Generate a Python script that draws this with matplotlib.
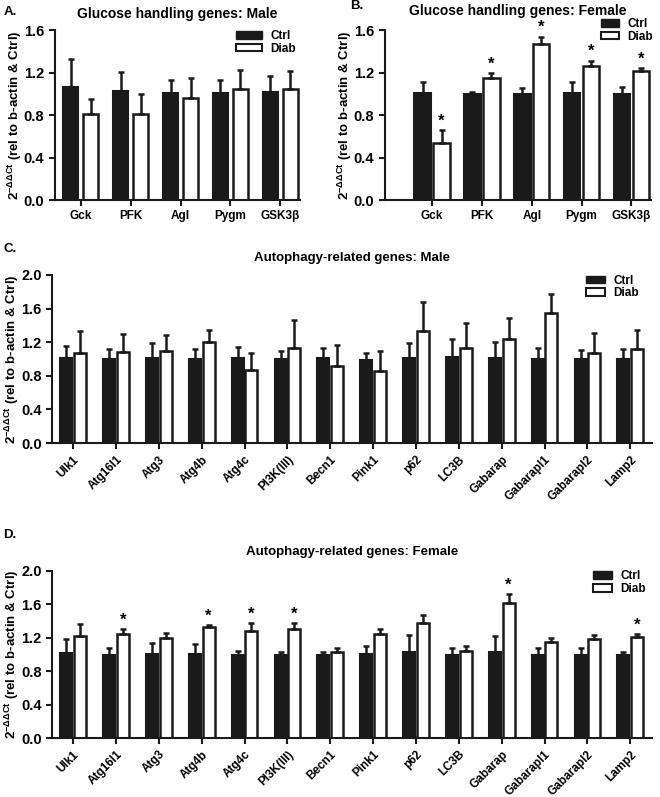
import matplotlib.pyplot as plt
import numpy as np
from matplotlib.patches import Patch

plt.rcParams['font.family'] = ['Liberation Sans', 'DejaVu Sans']
plt.rcParams['font.weight'] = 'bold'
plt.rcParams['mathtext.fontset'] = 'custom'
plt.rcParams['mathtext.rm'] = 'Liberation Sans'
plt.rcParams['mathtext.bf'] = 'Liberation Sans:bold'

# glucose handling genes
glu_genes = ["Gck", "PFK", "Agl", "Pygm", "GSK3β"]
male_glu_ctrl = [1.07, 1.03, 1.01, 1.01, 1.02]
male_glu_ctrl_err = [0.26, 0.18, 0.12, 0.12, 0.15]
male_glu_diab = [0.81, 0.81, 0.96, 1.045, 1.045]
male_glu_diab_err = [0.14, 0.19, 0.19, 0.18, 0.17]

fem_glu_ctrl = [1.01, 1.00, 1.00, 1.01, 1.00]
fem_glu_ctrl_err = [0.10, 0.02, 0.06, 0.10, 0.07]
fem_glu_diab = [0.54, 1.15, 1.475, 1.267, 1.214]
fem_glu_diab_err = [0.12, 0.045, 0.065, 0.045, 0.03]
fem_glu_sig = [True, True, True, True, True]

# autophagy-related genes
aut_genes = ["Ulk1", "Atg16l1", "Atg3", "Atg4b", "Atg4c", "PI3K(III)", "Becn1",
             "Pink1", "p62", "LC3B", "Gabarap", "Gabarapl1", "Gabarapl2", "Lamp2"]
male_aut_ctrl = [1.014, 1.006, 1.018, 1.006, 1.01, 0.998, 1.01,
                 0.994, 1.018, 1.026, 1.018, 1.006, 1.002, 1.006]
male_aut_ctrl_err = [0.14, 0.11, 0.17, 0.11, 0.135, 0.095, 0.123,
                     0.08, 0.175, 0.21, 0.183, 0.123, 0.111, 0.115]
male_aut_diab = [1.066, 1.089, 1.093, 1.205, 0.871, 1.129, 0.918,
                 0.859, 1.332, 1.133, 1.237, 1.543, 1.074, 1.125]
male_aut_diab_err = [0.27, 0.203, 0.19, 0.14, 0.195, 0.338, 0.247,
                     0.242, 0.342, 0.298, 0.25, 0.23, 0.23, 0.219]

fem_aut_ctrl = [1.014, 0.998, 1.002, 1.002, 0.994, 0.994, 0.994,
                1.002, 1.03, 0.998, 1.03, 0.998, 0.998, 0.994]
fem_aut_ctrl_err = [0.167, 0.08, 0.131, 0.127, 0.044, 0.028, 0.036,
                    0.099, 0.207, 0.072, 0.195, 0.08, 0.08, 0.028]
fem_aut_diab = [1.217, 1.241, 1.197, 1.332, 1.28, 1.304, 1.022,
                1.248, 1.376, 1.034, 1.618, 1.149, 1.185, 1.209]
fem_aut_diab_err = [0.147, 0.059, 0.063, 0.024, 0.096, 0.072, 0.048,
                    0.052, 0.095, 0.063, 0.104, 0.044, 0.052, 0.039]
fem_aut_sig = [False, True, False, True, True, True, False,
               False, False, False, True, False, False, True]

ylabel = r'2$^{-\Delta\Delta \mathrm{Ct}}$ (rel to b-actin & Ctrl)'


def bar_panel(ax, genes, ctrl, ctrl_err, diab, diab_err, sig, width, offs,
              ymax, yticks, xlim, rot):
    x = np.arange(len(genes))
    zeros = np.zeros(len(genes))
    ax.bar(x - offs, ctrl, width, color='#1a1a1a', edgecolor='#1a1a1a', linewidth=1.5, label='Ctrl')
    ax.bar(x + offs, diab, width, color='white', edgecolor='#1a1a1a', linewidth=1.8, label='Diab')
    ax.errorbar(x - offs, ctrl, yerr=[zeros, ctrl_err], fmt='none', ecolor='#1a1a1a',
                elinewidth=1.8, capsize=2.5, capthick=1.8)
    ax.errorbar(x + offs, diab, yerr=[zeros, diab_err], fmt='none', ecolor='#1a1a1a',
                elinewidth=1.8, capsize=2.5, capthick=1.8)
    if sig is not None:
        for i in range(len(genes)):
            if sig[i]:
                ax.text(x[i] + offs, diab[i] + diab_err[i] + 0.015, '*', ha='center',
                        va='bottom', fontsize=12, fontweight='bold')
    ax.set_xlim(xlim)
    ax.set_ylim(0, ymax)
    ax.set_yticks(yticks)
    ax.set_yticklabels(['%.1f' % v for v in yticks], fontsize=10.5, fontweight='bold')
    ax.set_xticks(x)
    if rot:
        ax.set_xticklabels(genes, rotation=45, ha='right', rotation_mode='anchor',
                           fontsize=8.5, fontweight='bold')
    else:
        ax.set_xticklabels(genes, fontsize=8.5, fontweight='bold')
    for s in ['top', 'right']:
        ax.spines[s].set_visible(False)
    for s in ['left', 'bottom']:
        ax.spines[s].set_linewidth(1.5)
        ax.spines[s].set_color('#1a1a1a')
    ax.tick_params(axis='both', width=1.5, length=4, color='#1a1a1a', direction='out')
    ax.set_ylabel(ylabel, fontsize=9.5, fontweight='bold', labelpad=0)


def add_legend(ax, anchor, hl):
    handles = [Patch(facecolor='#1a1a1a', edgecolor='#1a1a1a', label='Ctrl'),
               Patch(facecolor='white', edgecolor='#1a1a1a', linewidth=1.5, label='Diab')]
    ax.legend(handles=handles, loc='upper left', bbox_to_anchor=anchor, frameon=False,
              fontsize=8.5, handlelength=hl, handleheight=0.6, labelspacing=0.05,
              handletextpad=0.7, borderaxespad=0)


fig = plt.figure(figsize=(6.6, 7.97), dpi=100)

axA = fig.add_axes([0.083, 0.749, 0.372, 0.213])
bar_panel(axA, glu_genes, male_glu_ctrl, male_glu_ctrl_err, male_glu_diab, male_glu_diab_err,
          None, 0.3, 0.2, 1.6, [0.0, 0.4, 0.8, 1.2, 1.6], (-0.52, 4.4), False)
axA.set_title('Glucose handling genes: Male', fontsize=10, fontweight='bold', pad=9)
add_legend(axA, (0.72, 1.03), 2.2)

axB = fig.add_axes([0.583, 0.749, 0.404, 0.213])
bar_panel(axB, glu_genes, fem_glu_ctrl, fem_glu_ctrl_err, fem_glu_diab, fem_glu_diab_err,
          fem_glu_sig, 0.33, 0.19, 1.6, [0.0, 0.4, 0.8, 1.2, 1.6], (-0.95, 4.4), False)
axB.set_title('Glucose handling genes: Female', fontsize=10, fontweight='bold', pad=11)
add_legend(axB, (0.795, 1.1), 1.5)

axC = fig.add_axes([0.079, 0.444, 0.909, 0.211])
bar_panel(axC, aut_genes, male_aut_ctrl, male_aut_ctrl_err, male_aut_diab, male_aut_diab_err,
          None, 0.28, 0.16, 2.0, [0.0, 0.4, 0.8, 1.2, 1.6, 2.0], (-0.49, 13.51), True)
axC.set_title('Autophagy-related genes: Male', fontsize=9.5, fontweight='bold', pad=10)
add_legend(axC, (0.882, 1.03), 1.6)

axD = fig.add_axes([0.079, 0.074, 0.909, 0.21])
bar_panel(axD, aut_genes, fem_aut_ctrl, fem_aut_ctrl_err, fem_aut_diab, fem_aut_diab_err,
          fem_aut_sig, 0.28, 0.16, 2.0, [0.0, 0.4, 0.8, 1.2, 1.6, 2.0], (-0.49, 13.51), True)
axD.set_title('Autophagy-related genes: Female', fontsize=9.5, fontweight='bold', pad=11)
add_legend(axD, (0.894, 1.03), 1.6)

fig.text(0.005, 0.985, 'A.', fontsize=9.5, fontweight='bold', va='center')
fig.text(0.53, 0.992, 'B.', fontsize=9.5, fontweight='bold', va='center')
fig.text(0.005, 0.688, 'C.', fontsize=9.5, fontweight='bold', va='center')
fig.text(0.005, 0.329, 'D.', fontsize=9.5, fontweight='bold', va='center')

fig.savefig('out.png', dpi=100)
